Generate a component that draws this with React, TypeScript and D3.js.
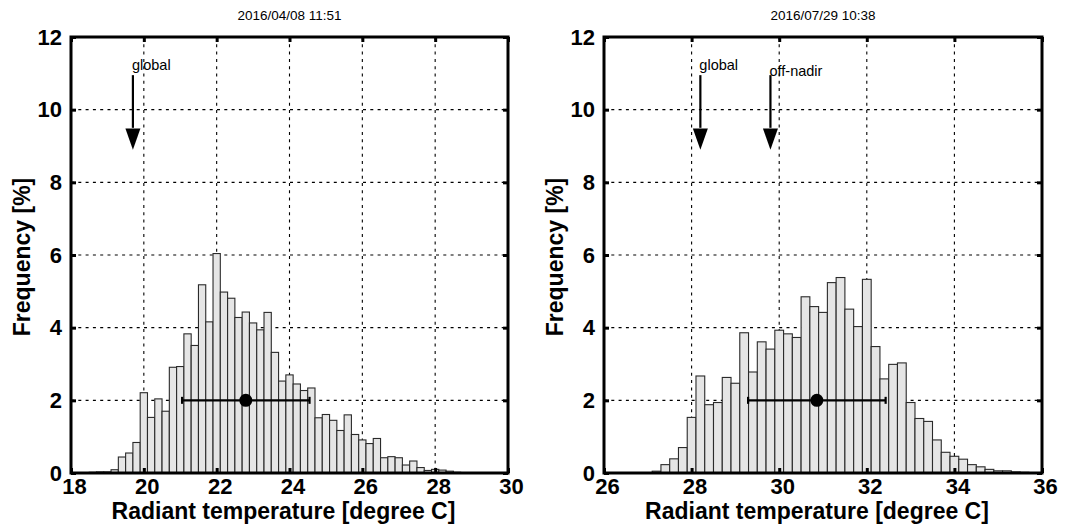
import React, { useRef, useEffect } from 'react';
import * as d3 from 'd3';

// bin width 0.2 degree C, bins centred on multiples of 0.2
const binWidth = 0.2;

// 2016/04/08 11:51
const leftTitle = '2016/04/08 11:51';
const leftFirstBin = 18.4;
const leftFreq = [
  0.01, 0.02, 0.03, 0.03, 0.09, 0.44, 0.55, 0.84, 2.21, 1.53,
  2.04, 1.70, 2.91, 2.93, 3.83, 3.51, 5.18, 4.16, 6.04, 4.98,
  4.81, 4.28, 4.43, 4.13, 3.94, 4.42, 3.32, 2.53, 2.70, 2.45,
  2.27, 2.34, 1.52, 1.61, 1.45, 1.17, 1.60, 1.06, 0.91, 0.81,
  0.95, 0.42, 0.45, 0.42, 0.22, 0.33, 0.15, 0.07, 0.10, 0.08,
  0.05, 0.02, 0.01, 0.01,
];
const leftXTicks = [18, 20, 22, 24, 26, 28, 30];
const leftMean = 22.8;
const leftSd = 1.75;
const leftArrows = [{ label: 'global', x: 19.7 }];

// 2016/07/29 10:38
const rightTitle = '2016/07/29 10:38';
const rightFirstBin = 27.2;
const rightFreq = [
  0.05, 0.23, 0.39, 0.70, 1.53, 2.67, 1.88, 1.94, 2.63, 2.47,
  3.86, 2.78, 3.61, 3.41, 3.93, 3.83, 3.73, 4.85, 4.58, 4.42,
  5.24, 5.38, 4.51, 4.03, 5.33, 3.48, 2.59, 2.99, 3.03, 1.94,
  1.50, 1.42, 0.91, 0.57, 0.46, 0.38, 0.23, 0.17, 0.10, 0.06,
  0.06, 0.03, 0.02, 0.01,
];
const rightXTicks = [26, 28, 30, 32, 34, 36];
const rightMean = 30.86;
const rightSd = 1.57;
const rightArrows = [
  { label: 'global', x: 28.2 },
  { label: 'off-nadir', x: 29.8 },
];

const yTicks = [0, 2, 4, 6, 8, 10, 12];

const W = 1068;
const H = 525;
const top = 37;
const bottom = 473;
const font = '"Liberation Sans", Arial, Helvetica, sans-serif';

function drawPanel(g, opts) {
  const { x0, x1, title, firstBin, freq, xTicks, mean, sd, arrows } = opts;

  const x = d3.scaleLinear().domain([xTicks[0], xTicks[xTicks.length - 1]]).range([x0, x1]);
  const y = d3.scaleLinear().domain([0, 12]).range([bottom, top]);

  const bins = freq.map((f, i) => ({ c: firstBin + i * binWidth, f }));

  // grid (behind the bars)
  const grid = g.append('g').attr('stroke', '#000').attr('stroke-width', 1.1).attr('stroke-dasharray', '3,4.3');
  grid.selectAll('.vg')
    .data(xTicks.slice(1, -1))
    .enter()
    .append('line')
    .attr('x1', (d) => x(d)).attr('x2', (d) => x(d))
    .attr('y1', top).attr('y2', bottom);
  grid.selectAll('.hg')
    .data(yTicks.slice(1, -1))
    .enter()
    .append('line')
    .attr('x1', x0).attr('x2', x1)
    .attr('y1', (d) => y(d)).attr('y2', (d) => y(d));

  // bars
  g.append('g')
    .selectAll('rect')
    .data(bins)
    .enter()
    .append('rect')
    .attr('x', (d) => x(d.c - binWidth / 2))
    .attr('y', (d) => y(d.f))
    .attr('width', (d) => x(d.c + binWidth / 2) - x(d.c - binWidth / 2))
    .attr('height', (d) => y(0) - y(d.f))
    .attr('fill', '#e5e5e5')
    .attr('stroke', '#2a2a2a')
    .attr('stroke-width', 1.1);

  // mean +- sd
  const eb = g.append('g').attr('stroke', '#000').attr('stroke-width', 2.2);
  eb.append('line')
    .attr('x1', x(mean - sd)).attr('x2', x(mean + sd))
    .attr('y1', y(2)).attr('y2', y(2));
  [mean - sd, mean + sd].forEach((v) => {
    eb.append('line')
      .attr('x1', x(v)).attr('x2', x(v))
      .attr('y1', y(2) - 3.5).attr('y2', y(2) + 3.5);
  });
  g.append('circle')
    .attr('cx', x(mean)).attr('cy', y(2)).attr('r', 6.5)
    .attr('fill', '#000');

  // axes
  const axL = g.append('g')
    .attr('transform', `translate(${x0},0)`)
    .call(d3.axisLeft(y).tickValues(yTicks).tickSize(-5).tickPadding(9).tickFormat(d3.format('d')));
  const axR = g.append('g')
    .attr('transform', `translate(${x1},0)`)
    .call(d3.axisRight(y).tickValues(yTicks).tickSize(-5).tickFormat(() => ''));
  const axB = g.append('g')
    .attr('transform', `translate(0,${bottom})`)
    .call(d3.axisBottom(x).tickValues(xTicks).tickSize(-5).tickPadding(5).tickFormat(d3.format('d')));
  const axT = g.append('g')
    .attr('transform', `translate(0,${top})`)
    .call(d3.axisTop(x).tickValues(xTicks).tickSize(-5).tickFormat(() => ''));
  [axL, axR, axB, axT].forEach((a) => {
    a.select('.domain').remove();
    a.selectAll('.tick line').attr('stroke', '#000').attr('stroke-width', 3);
    a.selectAll('.tick text')
      .attr('fill', '#000')
      .attr('font-family', font)
      .attr('font-weight', 'bold')
      .attr('font-size', 22);
  });
  axB.selectAll('.tick text').attr('dx', 3);

  // frame
  g.append('rect')
    .attr('x', x0).attr('y', top)
    .attr('width', x1 - x0).attr('height', bottom - top)
    .attr('fill', 'none')
    .attr('stroke', '#000')
    .attr('stroke-width', 3);

  // title
  g.append('text')
    .attr('x', (x0 + x1) / 2).attr('y', 20)
    .attr('text-anchor', 'middle')
    .attr('font-family', font)
    .attr('font-size', 13.5)
    .text(title);

  // axis titles
  g.append('text')
    .attr('x', (x0 + x1) / 2 - 6).attr('y', 519)
    .attr('text-anchor', 'middle')
    .attr('font-family', font)
    .attr('font-weight', 'bold')
    .attr('font-size', 23)
    .text('Radiant temperature [degree C]');
  g.append('text')
    .attr('transform', `translate(${x0 - 41},${(top + bottom) / 2 + 2}) rotate(-90)`)
    .attr('text-anchor', 'middle')
    .attr('font-family', font)
    .attr('font-weight', 'bold')
    .attr('font-size', 23)
    .text('Frequency [%]');

  // arrows
  arrows.forEach((a) => {
    const ax = x(a.x);
    g.append('line')
      .attr('x1', ax).attr('x2', ax)
      .attr('y1', y(10.95)).attr('y2', y(9.5))
      .attr('stroke', '#000').attr('stroke-width', 2.2);
    g.append('path')
      .attr('d', `M${ax - 7.5},${y(9.48)} L${ax + 7.5},${y(9.48)} L${ax},${y(8.9)} Z`)
      .attr('fill', '#000');
    g.append('text')
      .attr('x', ax - 1)
      .attr('y', a.label === 'off-nadir' ? y(10.92) : y(11.1))
      .attr('font-family', font)
      .attr('font-size', 14.5)
      .text(a.label);
  });
}

const App = () => {
  const svgRef = useRef(null);

  useEffect(() => {
    const svg = d3.select(svgRef.current);
    svg.selectAll('*').remove();

    drawPanel(svg.append('g'), {
      x0: 71, x1: 508, title: leftTitle, firstBin: leftFirstBin, freq: leftFreq,
      xTicks: leftXTicks, mean: leftMean, sd: leftSd, arrows: leftArrows,
    });
    drawPanel(svg.append('g'), {
      x0: 604, x1: 1042, title: rightTitle, firstBin: rightFirstBin, freq: rightFreq,
      xTicks: rightXTicks, mean: rightMean, sd: rightSd, arrows: rightArrows,
    });

    return () => {
      svg.selectAll('*').remove();
    };
  }, []);

  return (
    <div style={{ position: 'absolute', left: 0, top: 0 }}>
      <svg ref={svgRef} width={W} height={H} style={{ display: 'block', background: '#fff' }}></svg>
    </div>
  );
};

export default App;
